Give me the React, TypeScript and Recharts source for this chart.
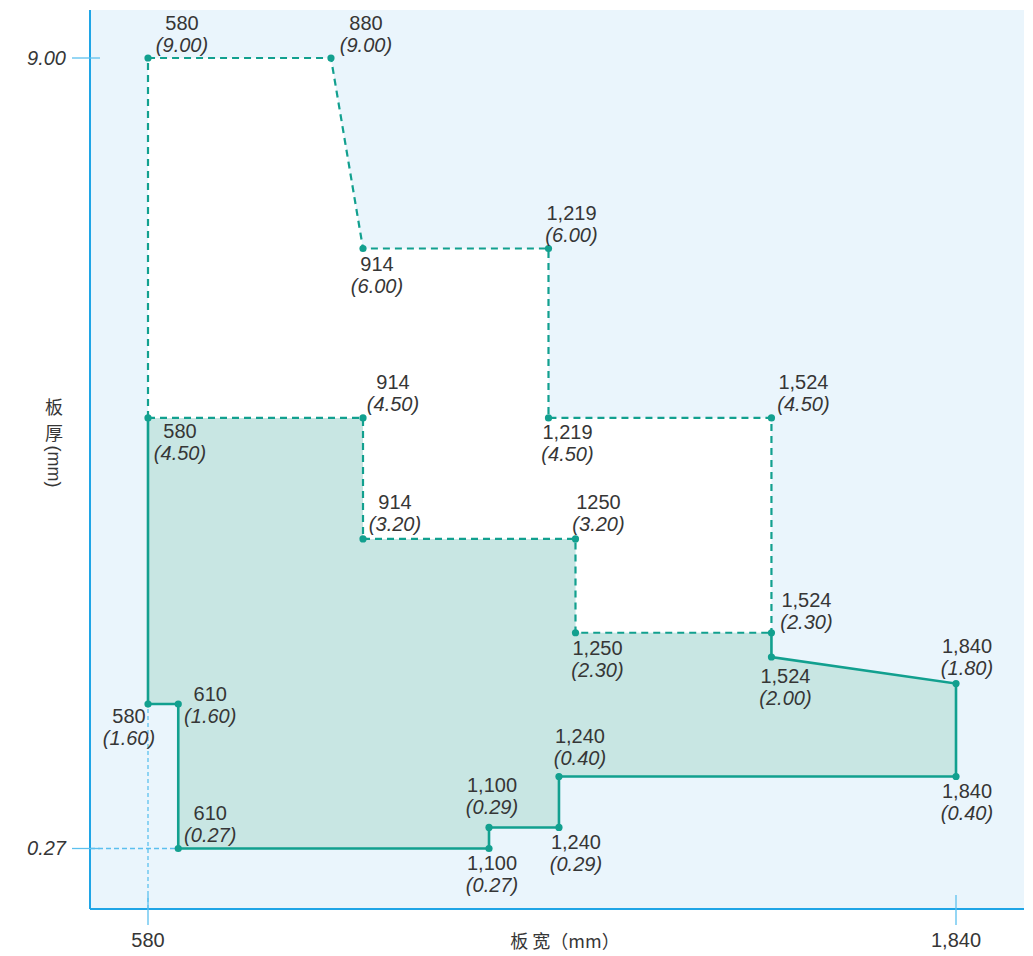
import React from 'react';
import {
  ComposedChart,
  Area,
  Line,
  Scatter,
  XAxis,
  YAxis,
  CartesianGrid,
  ReferenceLine,
} from 'recharts';

// 标注的角点：板宽 (mm) / 板厚 (mm)
const cornerWidths = [580, 880, 914, 1219, 914, 580, 1219, 1524, 914, 1250, 1250, 1524, 1524, 1840, 1840, 1240, 1240, 1100, 1100, 610, 610, 580];
const cornerThickness = [9.0, 9.0, 6.0, 6.0, 4.5, 4.5, 4.5, 4.5, 3.2, 3.2, 2.3, 2.3, 2.0, 1.8, 0.4, 0.4, 0.29, 0.29, 0.27, 0.27, 1.6, 1.6];
const cornerWidthLabels = ['580', '880', '914', '1,219', '914', '580', '1,219', '1,524', '914', '1250', '1,250', '1,524', '1,524', '1,840', '1,840', '1,240', '1,240', '1,100', '1,100', '610', '610', '580'];

// 标准范围（绿色区域）：下限 / 上限
const stdWidths = [580, 610, 610, 914, 914, 1100, 1100, 1240, 1240, 1250, 1250, 1524, 1524, 1840];
const stdLow = [1.6, 1.6, 0.27, 0.27, 0.27, 0.27, 0.29, 0.29, 0.4, 0.4, 0.4, 0.4, 0.4, 0.4];
const stdHigh = [4.5, 4.5, 4.5, 4.5, 3.2, 3.2, 3.2, 3.2, 3.2, 3.2, 2.3, 2.3, 2.0, 1.8];

// 扩展范围（白色区域，虚线）
const extWidths = [580, 880, 914, 914, 1219, 1219, 1250, 1250, 1524];
const extLow = [4.5, 4.5, 4.5, 3.2, 3.2, 3.2, 3.2, 2.3, 2.3];
const extHigh = [9.0, 9.0, 6.0, 6.0, 6.0, 4.5, 4.5, 4.5, 4.5];

// 边框路径
const solidWidths = [580, 580, 610, 610, 1100, 1100, 1240, 1240, 1840, 1840, 1524, 1524];
const solidThickness = [4.5, 1.6, 1.6, 0.27, 0.27, 0.29, 0.29, 0.4, 0.4, 1.8, 2.0, 2.3];
const innerDashWidths = [580, 914, 914, 1250, 1250, 1524];
const innerDashThickness = [4.5, 4.5, 3.2, 3.2, 2.3, 2.3];
const outerDashWidths = [580, 580, 880, 914, 1219, 1219, 1524, 1524];
const outerDashThickness = [4.5, 9.0, 9.0, 6.0, 6.0, 4.5, 4.5, 2.3];

// 坐标轴
const widthTicks = [580, 1840];
const thicknessTicks = [0.27, 9.0];
const widthDomain = [489, 1946];
const thicknessDomain = [0, 10];

// 示意图两轴都不按比例：轴上的值 -> 绘图区宽/高的比例
const widthAxisStops = [
  [489, 0], [580, 0.0621], [610, 0.0945], [880, 0.258], [914, 0.2923], [1100, 0.4272],
  [1219, 0.4909], [1240, 0.5021], [1250, 0.5198], [1524, 0.7296], [1840, 0.9272], [1946, 1],
];
const thicknessAxisStops = [
  [0, 0], [0.27, 0.0673], [0.29, 0.0907], [0.4, 0.1474], [1.6, 0.228], [1.8, 0.2508],
  [2.0, 0.2803], [2.3, 0.3073], [3.2, 0.4116], [4.5, 0.5462], [6.0, 0.7347], [9.0, 0.9466], [10, 1],
];

// 标签相对点的偏移 [dx, dy]
const labelOffsets = [
  [34, -35], [35, -35], [14, 15], [23, -36], [30, -36], [32, 13], [19, 14], [32, -36],
  [32, -37], [23, -37], [22, 15], [35, -33], [14, 19], [11, -38], [11, 15], [21, -40],
  [17, 15], [3, -42], [3, 15], [32, -35], [32, -10], [-19, 12],
];

const TEAL = '#12a08f';
const TEAL_FILL = '#c8e6e3';
const BG = '#eaf5fc';
const AXIS = '#1fa5e6';
const TICK = '#5cc0ee';
const TEXT = '#363636';
const FONT = '"Liberation Sans", Arial, Helvetica, sans-serif';
const CJK = '"Noto Sans CJK SC", "Noto Sans", sans-serif';

function stopScale(stops: number[][]): any {
  let dom = [stops[0][0], stops[stops.length - 1][0]];
  let rng = [0, 1];
  const frac = (v: number) => {
    for (let i = 1; i < stops.length; i++) {
      const [v0, f0] = stops[i - 1];
      const [v1, f1] = stops[i];
      if (v <= v1 || i === stops.length - 1) return f0 + ((v - v0) / (v1 - v0)) * (f1 - f0);
    }
    return 0;
  };
  const s: any = (v: number) => rng[0] + frac(Number(v)) * (rng[1] - rng[0]);
  s.domain = (d?: number[]) => {
    if (d === undefined) return dom;
    dom = [...d];
    return s;
  };
  s.range = (r?: number[]) => {
    if (r === undefined) return rng;
    rng = [...r];
    return s;
  };
  s.copy = () => stopScale(stops).domain(dom).range(rng);
  s.ticks = () => stops.map((p) => p[0]);
  return s;
}

const widthScale = stopScale(widthAxisStops);
const thicknessScale = stopScale(thicknessAxisStops);

const stdData = stdWidths.map((w, i) => ({ w, lo: stdLow[i], hi: stdHigh[i] }));
const extData = extWidths.map((w, i) => ({ w, lo: extLow[i], hi: extHigh[i] }));
const solidData = solidWidths.map((w, i) => ({ w, t: solidThickness[i] }));
const innerDashData = innerDashWidths.map((w, i) => ({ w, t: innerDashThickness[i] }));
const outerDashData = outerDashWidths.map((w, i) => ({ w, t: outerDashThickness[i] }));
const cornerData = cornerWidths.map((w, i) => ({ w, t: cornerThickness[i], i }));

const CornerDot = (props: any) => {
  const { cx, cy, payload } = props;
  if (cx == null || cy == null) return null;
  const [dx, dy] = labelOffsets[payload.i];
  return (
    <g>
      <circle cx={cx} cy={cy} r={3.6} fill={TEAL} />
      <text x={cx + dx} y={cy + dy} textAnchor="middle" dominantBaseline="central" fontSize={20} fontFamily={FONT} fill={TEXT}>
        {cornerWidthLabels[payload.i]}
      </text>
      <text x={cx + dx} y={cy + dy + 22} textAnchor="middle" dominantBaseline="central" fontSize={20} fontStyle="italic" fontFamily={FONT} fill={TEXT}>
        ({payload.t.toFixed(2)})
      </text>
    </g>
  );
};

const YTick = (props: any) => {
  const { x, y, payload } = props;
  return (
    <g>
      <line x1={x - 18} x2={x + 10} y1={y} y2={y} stroke={TICK} strokeWidth={1.3} />
      <text x={x - 24} y={y} textAnchor="end" dominantBaseline="central" fontSize={20} fontStyle="italic" fontFamily={FONT} fill={TEXT}>
        {Number(payload.value).toFixed(2)}
      </text>
    </g>
  );
};

const XTick = (props: any) => {
  const { x, y, payload } = props;
  return (
    <g>
      <line x1={x} x2={x} y1={y - 14} y2={y + 16} stroke={TICK} strokeWidth={1.3} />
      <text x={x} y={y + 31} textAnchor="middle" dominantBaseline="central" fontSize={20} fontFamily={FONT} fill={TEXT}>
        {Number(payload.value).toLocaleString('en-US')}
      </text>
    </g>
  );
};

const YTitle = (props: any) => {
  const vb = props.viewBox || { x: 0, y: 2, width: 82, height: 899 };
  const cx = vb.x + 46;
  const mid = vb.y + vb.height / 2;
  return (
    <g fontSize={18} fill={TEXT}>
      <text x={cx} y={mid - 54} textAnchor="middle" dominantBaseline="central" fontFamily={CJK}>板</text>
      <text x={cx} y={mid - 28} textAnchor="middle" dominantBaseline="central" fontFamily={CJK}>厚</text>
      <text x={cx} y={mid + 7} textAnchor="middle" dominantBaseline="central" fontFamily={FONT} transform={`rotate(90 ${cx} ${mid + 7})`}>
        (mm)
      </text>
    </g>
  );
};

const XTitle = (props: any) => {
  const vb = props.viewBox || { x: 82, y: 901, width: 934, height: 44 };
  return (
    <text x={vb.x + vb.width / 2 + 8} y={vb.y + 31} textAnchor="middle" dominantBaseline="central" fontFamily={CJK} fontSize={18} fill={TEXT}>
      板 宽（mm）
    </text>
  );
};

export default function App() {
  return (
    <div style={{ width: 1025, height: 945 }}>
      <ComposedChart width={1025} height={945} margin={{ top: 2, right: 9, bottom: 0, left: 0 }}>
        <CartesianGrid horizontal={false} vertical={false} fill={BG} stroke="none" />
        <XAxis
          type="number"
          dataKey="w"
          domain={widthDomain}
          scale={widthScale}
          ticks={widthTicks}
          interval={0}
          allowDataOverflow
          height={44}
          tickSize={0}
          tickMargin={0}
          tickLine={false}
          axisLine={{ stroke: AXIS, strokeWidth: 2 }}
          tick={<XTick />}
          label={{ content: <XTitle /> }}
        />
        <YAxis
          type="number"
          dataKey="t"
          domain={thicknessDomain}
          scale={thicknessScale}
          ticks={thicknessTicks}
          interval={0}
          allowDataOverflow
          width={82}
          tickSize={0}
          tickMargin={0}
          tickLine={false}
          axisLine={{ stroke: AXIS, strokeWidth: 2 }}
          tick={<YTick />}
          label={{ content: <YTitle /> }}
        />
        <Area
          data={extData}
          dataKey={(d: any) => [d.lo, d.hi]}
          type="linear"
          stroke="none"
          fill="#ffffff"
          fillOpacity={1}
          isAnimationActive={false}
          activeDot={false}
        />
        <Area
          data={stdData}
          dataKey={(d: any) => [d.lo, d.hi]}
          type="linear"
          stroke="none"
          fill={TEAL_FILL}
          fillOpacity={1}
          isAnimationActive={false}
          activeDot={false}
        />
        <ReferenceLine
          segment={[{ x: 580, y: thicknessDomain[0] }, { x: 580, y: 1.6 }]}
          stroke={TICK}
          strokeWidth={1.3}
          strokeDasharray="4 3"
          ifOverflow="visible"
        />
        <ReferenceLine
          segment={[{ x: widthDomain[0], y: 0.27 }, { x: 610, y: 0.27 }]}
          stroke={TICK}
          strokeWidth={1.3}
          strokeDasharray="5 3"
          ifOverflow="visible"
        />
        <Line data={outerDashData} dataKey="t" type="linear" stroke={TEAL} strokeWidth={2.2} strokeDasharray="7 5" dot={false} activeDot={false} isAnimationActive={false} />
        <Line data={innerDashData} dataKey="t" type="linear" stroke={TEAL} strokeWidth={2.2} strokeDasharray="7 5" dot={false} activeDot={false} isAnimationActive={false} />
        <Line data={solidData} dataKey="t" type="linear" stroke={TEAL} strokeWidth={2.6} dot={false} activeDot={false} isAnimationActive={false} />
        <Scatter data={cornerData} dataKey="t" shape={<CornerDot />} isAnimationActive={false} />
      </ComposedChart>
    </div>
  );
}
